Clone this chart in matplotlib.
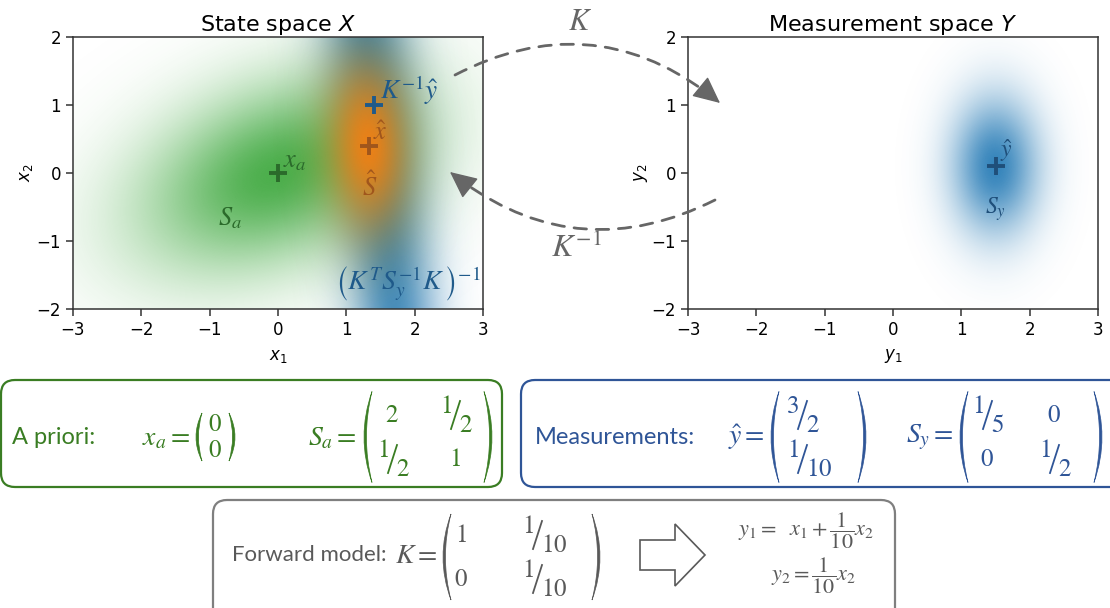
import numpy as np
from fractions import Fraction
import matplotlib
matplotlib.use("Agg")
import matplotlib.pyplot as plt
from matplotlib.patches import FancyBboxPatch, FancyArrowPatch, Polygon, PathPatch
from matplotlib.lines import Line2D
from matplotlib.path import Path
from matplotlib.transforms import IdentityTransform
from matplotlib.colors import to_rgb

# ---------------- data ----------------
x_a = np.array([0.0, 0.0])
S_a = np.array([[2.0, 0.5], [0.5, 1.0]])
y_hat = np.array([1.5, 0.1])
S_y = np.array([[0.2, 0.0], [0.0, 0.5]])
K = np.array([[1.0, 0.1], [0.0, 0.1]])
x_limits = [-3, 3]
y_limits = [-2, 2]
x_ticks = [-3, -2, -1, 0, 1, 2, 3]
y_ticks = [-2, -1, 0, 1, 2]

# ---------------- derived (optimal estimation) ----------------
S_a_inv = np.linalg.inv(S_a)
S_y_inv = np.linalg.inv(S_y)
x_meas = np.linalg.inv(K) @ y_hat
S_meas = np.linalg.inv(K.T @ S_y_inv @ K)
S_hat = np.linalg.inv(S_a_inv + K.T @ S_y_inv @ K)
x_hat = S_hat @ (S_a_inv @ x_a + K.T @ S_y_inv @ y_hat)

W, H = 1110, 608
fig = plt.figure(figsize=(W / 100, H / 100), dpi=100)
ID = IdentityTransform()

GREEN = "#2ca02c"
BLUE = "#1f77b4"
ORANGE = "#ff7f0e"

gx = np.linspace(x_limits[0], x_limits[1], 600)
gy = np.linspace(y_limits[0], y_limits[1], 400)
GX, GY = np.meshgrid(gx, gy)


def density(mean, cov):
    P = np.linalg.inv(cov)
    dx = GX - mean[0]
    dy = GY - mean[1]
    q = P[0, 0] * dx * dx + 2 * P[0, 1] * dx * dy + P[1, 1] * dy * dy
    return np.exp(-0.5 * q)


def layer(ax, mean, cov, color, amax):
    d = density(mean, cov)
    rgba = np.zeros(d.shape + (4,))
    rgba[..., :3] = to_rgb(color)
    rgba[..., 3] = amax * d
    ax.imshow(rgba, extent=[*x_limits, *y_limits], origin="lower",
              aspect="auto", interpolation="bilinear", zorder=0)


def style_axes(ax, xlabel, ylabel, title):
    ax.set_xlim(x_limits)
    ax.set_ylim(y_limits)
    ax.set_xticks(x_ticks)
    ax.set_yticks(y_ticks)
    ax.tick_params(labelsize=12, length=5, width=1.1, color="#333333")
    for s in ax.spines.values():
        s.set_linewidth(1.1)
        s.set_color("#333333")
    ax.set_xlabel(xlabel, fontsize=12, labelpad=6)
    ax.set_ylabel(ylabel, fontsize=12, labelpad=1)
    ax.set_title(title, fontsize=16, pad=4)


axL = fig.add_axes([73 / W, 1 - 309 / H, 410 / W, 272 / H])
axR = fig.add_axes([688 / W, 1 - 309 / H, 410 / W, 272 / H])

layer(axL, x_meas, S_meas, BLUE, 0.9)
layer(axL, x_a, S_a, GREEN, 0.85)
layer(axL, x_hat, S_hat, ORANGE, 0.9)
layer(axR, y_hat, S_y, BLUE, 0.9)

style_axes(axL, r"$x_1$", r"$x_2$", r"State space $X$")
style_axes(axR, r"$y_1$", r"$y_2$", r"Measurement space $Y$")

DG = "#2b6b2b"
DB = "#1f5a8a"
DO = "#a0561c"
DB2 = "#1f4f7a"
mk = dict(marker="+", markersize=13, mew=2.8, linestyle="none", zorder=5)
axL.plot([x_a[0]], [x_a[1]], color=DG, **mk)
axL.plot([x_meas[0]], [x_meas[1]], color=DB, **mk)
axL.plot([x_hat[0]], [x_hat[1]], color=DO, **mk)
axR.plot([y_hat[0]], [y_hat[1]], color=DB2, **mk)

lab = dict(math_fontfamily="stix", ha="left", va="baseline", zorder=6)
axL.text(x_a[0] + 0.08, x_a[1] + 0.08, r"$x_a$", color=DG, fontsize=19, **lab)
axL.text(-0.88, -0.77, r"$S_a$", color=DG, fontsize=19, **lab)
axL.text(x_meas[0] + 0.09, x_meas[1] + 0.09, r"$K^{-1}\hat{y}$", color=DB, fontsize=19.5, **lab)
axL.text(x_hat[0] + 0.06, x_hat[1] + 0.09, r"$\hat{x}$", color=DO, fontsize=19, **lab)
axL.text(1.23, -0.34, r"$\hat{S}$", color=DO, fontsize=19, **lab)
axL.text(0.84, -1.72, r"$\left(K^TS_y^{-1}K\,\right)^{-1}$", color=DB, fontsize=20, **lab)
axR.text(y_hat[0] + 0.07, y_hat[1] + 0.14, r"$\hat{y}$", color=DB2, fontsize=17, **lab)
axR.text(1.35, -0.6, r"$S_y$", color=DB2, fontsize=17, **lab)

# ---------------- curved dashed arrows ----------------
AG = "#666666"


def curved_arrow(p0, p1, rad):
    a = (p0[0], H - p0[1])
    b = (p1[0], H - p1[1])
    line = FancyArrowPatch(a, b, connectionstyle=f"arc3,rad={rad}",
                           arrowstyle="-", linestyle=(0, (4.5, 3.5)),
                           linewidth=2.0, color=AG, transform=ID,
                           shrinkA=0, shrinkB=12)
    fig.add_artist(line)
    dx, dy = b[0] - a[0], b[1] - a[1]
    cx = (a[0] + b[0]) / 2 + rad * dy
    cy = (a[1] + b[1]) / 2 - rad * dx
    tt = 0.1
    s = (b[0] + tt * (cx - b[0]), b[1] + tt * (cy - b[1]))
    head = FancyArrowPatch(s, b, arrowstyle="-|>,head_length=0.85,head_width=0.4",
                           mutation_scale=20, color=AG, linewidth=1,
                           transform=ID, shrinkA=0, shrinkB=0)
    fig.add_artist(head)


curved_arrow((455, 75), (720, 103), -0.33)
curved_arrow((715, 200), (450, 172), -0.32)
fig.text(580, H - 22, r"$K$", transform=ID, math_fontfamily="stix",
         fontsize=22, color=AG, ha="center", va="center")
fig.text(576, H - 248, r"$K^{-1}$", transform=ID, math_fontfamily="stix",
         fontsize=23, color=AG, ha="center", va="center")

# ---------------- boxes ----------------
BG = "#3a7d23"
BB = "#2f5597"
BGR = "#7f7f7f"
TG = "#595959"


def box(x0, y0, x1, y1, color):
    p = FancyBboxPatch((x0, H - y1), x1 - x0, y1 - y0,
                       boxstyle="round,pad=0,rounding_size=14",
                       transform=ID, facecolor="white", edgecolor=color,
                       linewidth=1.6)
    fig.add_artist(p)


def t(x, y, s, color, size, ha="left", math=False):
    kw = dict(transform=ID, color=color, fontsize=size, ha=ha, va="center")
    if math:
        kw["math_fontfamily"] = "stix"
    else:
        kw["fontfamily"] = "Lato"
    fig.text(x, H - y, s, **kw)


def paren(x, y0, y1, side, color, b, th=2.4):
    s = -1 if side == "left" else 1
    Y0, Y1 = H - y0, H - y1
    Ym = (Y0 + Y1) / 2
    verts = [(x, Y0), (x + s * 2 * b, Ym), (x, Y1),
             (x + s * 2 * (b - th), Ym), (x, Y0), (x, Y0)]
    codes = [Path.MOVETO, Path.CURVE3, Path.CURVE3,
             Path.CURVE3, Path.CURVE3, Path.CLOSEPOLY]
    fig.add_artist(PathPatch(Path(verts, codes), transform=ID,
                             facecolor=color, edgecolor=color, lw=0.5))


def entry(xc, yc, value, color, size):
    f = Fraction(float(value)).limit_denominator(100)
    if f.denominator == 1:
        t(xc, yc, rf"${f.numerator}$", color, size, ha="center", math=True)
    else:
        t(xc - 3, yc - 9, rf"${f.numerator}$", color, size, ha="right", math=True)
        fig.add_artist(Line2D([xc - 4, xc + 5], [H - (yc + 14), H - (yc - 14)],
                              transform=ID, color=color, lw=1.3))
        t(xc + 4, yc + 10, rf"${f.denominator}$", color, size, ha="left", math=True)


def matrix(M, lp, rp, cols, yc, h, dy, color, size=18, b=8):
    M = np.atleast_2d(np.asarray(M))
    if M.shape[0] == 1:
        M = M.T
    nrow = M.shape[0]
    rows = [yc - dy, yc + dy] if nrow == 2 else [yc]
    paren(lp, yc - h / 2, yc + h / 2, "left", color, b)
    paren(rp, yc - h / 2, yc + h / 2, "right", color, b)
    for i, yr in enumerate(rows):
        for j, xc in enumerate(cols):
            entry(xc, yr, M[i, j], color, size)


# A priori
box(1, 380, 502, 487, BG)
t(12, 437, "A priori:", BG, 17)
t(190, 437, r"$x_a =$", BG, 20, ha="right", math=True)
matrix(x_a, 202, 229, [215], 437, 48, 13, BG, size=18, b=6)
t(357, 437, r"$S_a =$", BG, 20, ha="right", math=True)
matrix(S_a, 372, 484, [392, 455], 437, 91, 22, BG)

# Measurements
box(521, 380, 1130, 487, BB)
t(535, 437, "Measurements:", BB, 17)
t(765, 437, r"$\hat{y} =$", BB, 20, ha="right", math=True)
matrix(y_hat, 779, 858, [802], 437, 91, 22, BB)
t(953, 437, r"$S_y =$", BB, 20, ha="right", math=True)
matrix(S_y, 968, 1094, [987, 1054], 437, 91, 22, BB)

# Forward model
box(213, 500, 895, 625, BGR)
t(232, 555, "Forward model:", TG, 16)
t(437, 555, r"$K =$", TG, 20, ha="right", math=True)
matrix(K, 451, 592, [461, 537], 557, 86, 22, TG)
arrow_pts = [(640, 540), (675, 540), (675, 524), (705, 555), (675, 586), (675, 570), (640, 570)]
fig.add_artist(Polygon([(px, H - py) for px, py in arrow_pts], closed=True,
                       transform=ID, facecolor="white", edgecolor="#595959", linewidth=1.2))
t(806, 531, r"$y_1 =\ \ x_1 + \dfrac{1}{10}x_2$", TG, 16, ha="center", math=True)
t(814, 576, r"$y_2 = \dfrac{1}{10}x_2$", TG, 16, ha="center", math=True)

fig.savefig("out.png", dpi=100)
